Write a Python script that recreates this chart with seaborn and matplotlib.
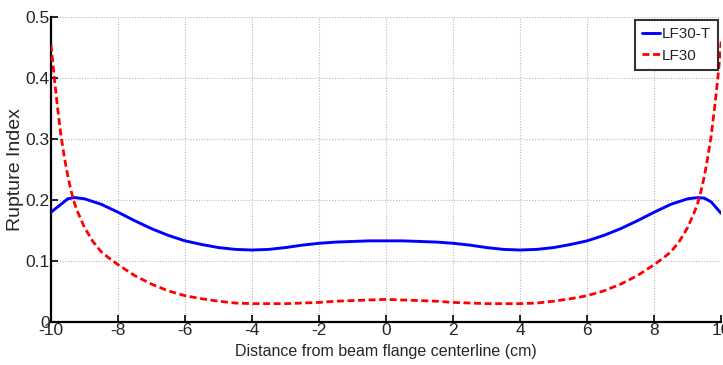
import numpy as np
import pandas as pd
import matplotlib
matplotlib.use("Agg")
import matplotlib.pyplot as plt
import seaborn as sns

# Data
x_t = [-10, -9.7, -9.5, -9.3, -9.0, -8.5, -8, -7.5, -7, -6.5, -6, -5.5, -5, -4.5, -4,
       -3.5, -3, -2.5, -2, -1.5, -1, -0.5, 0, 0.5, 1, 1.5, 2, 2.5, 3, 3.5, 4,
       4.5, 5, 5.5, 6, 6.5, 7, 7.5, 8, 8.5, 9.0, 9.3, 9.5, 9.7, 10]
lf30t = [0.180, 0.193, 0.202, 0.204, 0.202, 0.193, 0.180, 0.166, 0.153, 0.142, 0.133, 0.127, 0.122, 0.119, 0.118,
         0.119, 0.122, 0.126, 0.129, 0.131, 0.132, 0.133, 0.133, 0.133, 0.132, 0.131, 0.129, 0.126, 0.122, 0.119, 0.118,
         0.119, 0.122, 0.127, 0.133, 0.142, 0.153, 0.166, 0.180, 0.193, 0.202, 0.204, 0.203, 0.197, 0.178]

x_r = [-10, -9.9, -9.8, -9.7, -9.6, -9.5, -9.4, -9.3, -9.2, -9.0, -8.75, -8.5, -8.25, -8, -7.5, -7, -6.5, -6,
       -5.5, -5, -4.5, -4, -3.5, -3, -2.5, -2, -1.5, -1, -0.5, 0, 0.5, 1, 1.5, 2, 2.5, 3, 3.5, 4,
       4.5, 5, 5.5, 6, 6.5, 7, 7.5, 8, 8.25, 8.5, 8.75, 9.0, 9.2, 9.3, 9.4, 9.5, 9.6, 9.7, 9.8, 9.9, 10]
lf30 = [0.455, 0.400, 0.350, 0.305, 0.270, 0.240, 0.215, 0.195, 0.180, 0.155, 0.132, 0.115, 0.104, 0.094, 0.076, 0.062, 0.051, 0.043,
        0.038, 0.034, 0.031, 0.030, 0.030, 0.030, 0.031, 0.032, 0.034, 0.035, 0.036, 0.037, 0.036, 0.035, 0.034, 0.032, 0.031, 0.030, 0.030, 0.030,
        0.031, 0.034, 0.038, 0.043, 0.051, 0.062, 0.076, 0.094, 0.104, 0.115, 0.132, 0.155, 0.180, 0.195, 0.215, 0.240, 0.270, 0.305, 0.350, 0.400, 0.460]

x_ticks = [-10, -8, -6, -4, -2, 0, 2, 4, 6, 8, 10]
y_ticks = [0, 0.1, 0.2, 0.3, 0.4, 0.5]
y_tick_labels = ["0", "0.1", "0.2", "0.3", "0.4", "0.5"]

sns.set_theme(style="white")
plt.rcParams['font.family'] = ['Liberation Sans', 'DejaVu Sans']

fig = plt.figure(figsize=(7.23, 3.65), dpi=100)
ax = fig.add_axes([0.0705, 0.118, 0.927, 0.835])

df_t = pd.DataFrame({"x": x_t, "y": lf30t})
df_r = pd.DataFrame({"x": x_r, "y": lf30})
sns.lineplot(data=df_t, x="x", y="y", ax=ax, color="#0000ff", linewidth=2.1,
             label="LF30-T", zorder=3)
sns.lineplot(data=df_r, x="x", y="y", ax=ax, color="#ff0000", linewidth=2.0,
             linestyle=(0, (2.5, 1.3)), label="LF30", zorder=3)

ax.set_xlim(-10, 10)
ax.set_ylim(0, 0.5)
ax.set_xticks(x_ticks)
ax.set_xticklabels([str(v) for v in x_ticks])
ax.set_yticks(y_ticks)
ax.set_yticklabels(y_tick_labels)
ax.grid(True, color="#b8b8b8", linestyle=(0, (1, 1.5)), linewidth=0.8)
ax.tick_params(axis="both", direction="in", length=5, width=1.2, labelsize=12.5,
               pad=1, color="black", bottom=True, left=True)
for s in ["top", "right"]:
    ax.spines[s].set_visible(False)
for s in ["left", "bottom"]:
    ax.spines[s].set_color("black")
    ax.spines[s].set_linewidth(1.6)

ax.set_xlabel("Distance from beam flange centerline (cm)", fontsize=11.5, labelpad=4)
ax.set_ylabel("Rupture Index", fontsize=14)
ax.yaxis.set_label_coords(-0.04, 0.5)

leg = ax.legend(loc="upper right", bbox_to_anchor=(0.995, 0.99), fontsize=11,
                frameon=True, fancybox=False, handlelength=1.15, handletextpad=0.15,
                borderpad=0.45, labelspacing=0.5, borderaxespad=0)
leg.get_frame().set_edgecolor("black")
leg.get_frame().set_linewidth(1.5)

fig.savefig("out.png", dpi=100)
